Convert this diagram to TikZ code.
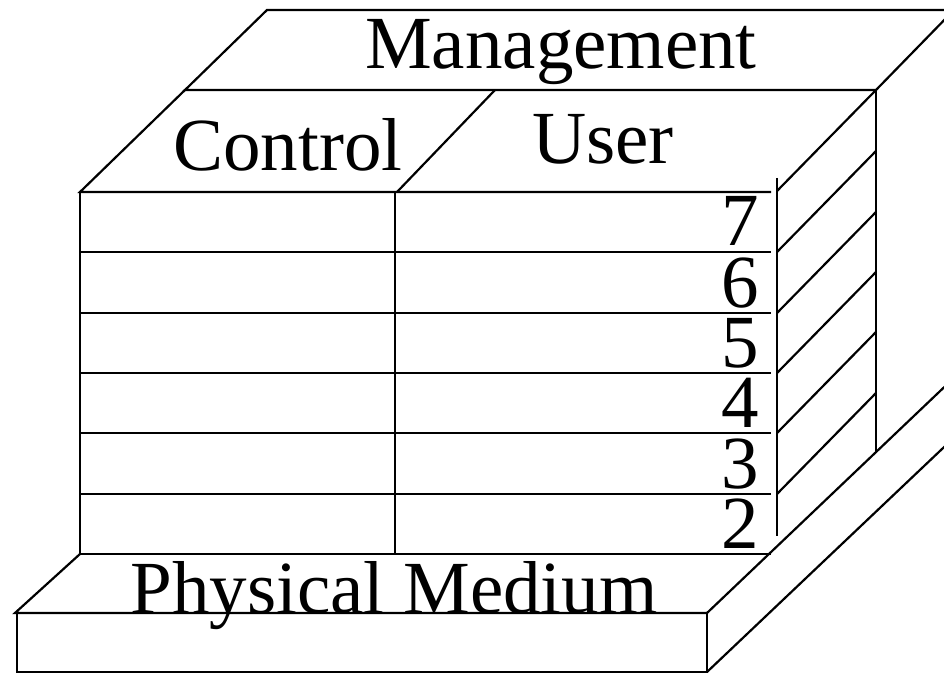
\documentclass[tikz,border=0pt]{standalone}
\usepackage{fontspec}
\setmainfont{Liberation Serif}
\usetikzlibrary{positioning}
\tikzstyle{stack} = [x = .5pt, y = -.5pt, every node/.style={inner sep=0pt}]
\tikzstyle{edgeLine} = [color=black, line width=1.1pt]
\tikzstyle{layerText} = [font=\fontsize{37.5}{40}\selectfont]
\newcommand{\rowLine}[1]{\draw [edgeLine] (80, #1) -- (771, #1);}
\newcommand{\sideLine}[1]{\draw [edgeLine] (777, #1) -- +(99, -101);}

\begin{document}
\begin{tikzpicture}[stack]
  \useasboundingbox (0,0) rectangle (944,674);

  % management plane
  \draw [edgeLine] (185,90) -- (267,10) -- (954,10) -- (876,90) -- cycle;
  \node [layerText, anchor=base] (management) at (561,69) {Management};

  % control and user planes
  \draw [edgeLine] (185,90) -- (80,192) -- (771,192);
  \draw [edgeLine] (495,90) -- (397,192);
  \draw [edgeLine] (876,90) -- (777,191);
  \node [layerText, anchor=base] (control) at (288,171) {Control};
  \node [layerText, anchor=base] (user) at (603,164) {User};

  % layers
  \draw [edgeLine] (80,192) -- (80,554);
  \draw [edgeLine] (395,192) -- (395,554);
  \draw [edgeLine] (777,178) -- (777,536);
  \draw [edgeLine] (876,90) -- (876,452);
  \foreach \row/\level in {252/7, 313/6, 373/5, 433/4, 494/3, 554/2} {
    \rowLine{\row}
    \node [layerText, anchor=base east] (layer\level) at (759, \row - 6) {\level};
  }
  \foreach \row in {252, 313, 373, 433, 494} {
    \sideLine{\row}
  }

  % physical medium
  \draw [edgeLine] (80,554) -- (15,613) -- (707,613);
  \draw [edgeLine] (17,613) rectangle (707,672);
  \draw [edgeLine] (707,613) -- (1000,334);
  \draw [edgeLine] (707,672) -- (1000,394);
  \node [layerText, anchor=base] (medium) at (394,613) {Physical Medium};
\end{tikzpicture}
\end{document}
